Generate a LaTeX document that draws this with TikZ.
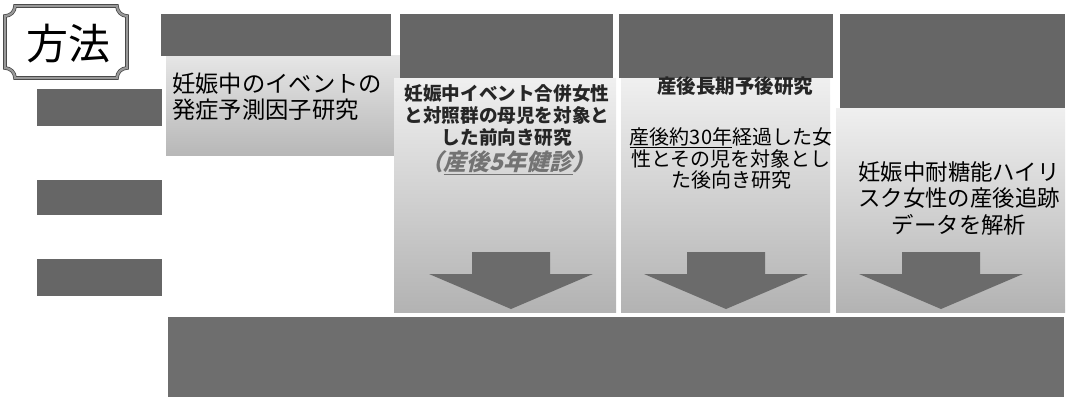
\documentclass[tikz,border=0pt]{standalone}
\usepackage{fontspec}
\newfontfamily\jp{Noto Sans CJK JP}
\newfontfamily\jpit[FakeSlant=0.25]{Noto Sans CJK JP}
\newcommand\fsz[2]{\fontsize{#1}{#2}\selectfont}
\begin{document}
\begin{tikzpicture}[x=1pt,y=-1pt,
  box/.style={rectangle, inner sep=0pt, outer sep=0pt, anchor=north west},
  darkbox/.style={box, fill=black!60},
  lightbg/.style={box, top color=black!6, bottom color=black!30},
  arrowfill/.style={fill=black!58},
  framebox/.style={draw=black!75, double=black!40, double distance=2.2pt, line width=0.7pt, fill=white},
  txt/.style={inner sep=0pt, align=center}
]
\useasboundingbox (0,0) rectangle (1068,404);

% column backgrounds
\node[box, top color=black!10, bottom color=black!28, minimum width=234, minimum height=99] (bg1) at (166,56) {};
\node[lightbg, minimum width=222, minimum height=234] (bg2) at (394,78) {};
\node[lightbg, minimum width=209, minimum height=234] (bg3) at (621,78) {};
\node[lightbg, minimum width=229, minimum height=204] (bg4) at (836,108) {};

% headers
\node[darkbox, minimum width=230, minimum height=42] (h1) at (161,14) {};
\node[darkbox, minimum width=213, minimum height=64] (h2) at (400,14) {};
\node[darkbox, minimum width=214, minimum height=64] (h3) at (619,14) {};
\node[darkbox, minimum width=225, minimum height=94] (h4) at (840,14) {};

% left boxes
\node[darkbox, minimum width=125, minimum height=37] (l1) at (37,89) {};
\node[darkbox, minimum width=125, minimum height=35] (l2) at (37,180) {};
\node[darkbox, minimum width=125, minimum height=37] (l3) at (37,259) {};

% bottom box
\node[box, fill=black!57, minimum width=896, minimum height=80] (bot) at (168,317) {};

% arrows
\foreach \cx in {511,726,941}{
  \fill[arrowfill] ({\cx-39},252) -- ({\cx+39},252) -- ({\cx+39},274) -- ({\cx+82},274)
    -- (\cx,309) -- ({\cx-82},274) -- ({\cx-39},274) -- cycle;
}

% 方法 frame
\draw[framebox] (15,6) -- (117,6) .. controls (117,11.5) and (121.5,16) .. (127,16)
  -- (127,68) .. controls (121.5,68) and (117,72.5) .. (117,78)
  -- (15,78) .. controls (15,72.5) and (10.5,68) .. (5,68)
  -- (5,16) .. controls (10.5,16) and (15,11.5) .. (15,6) -- cycle;
\node[txt, font=\jp\fsz{42}{44}] (hoho) at (68,44) {方法};

% texts
\node[inner sep=0pt, anchor=west, align=left, font=\jp\fsz{23.3}{26}] (t1) at (172,96.5)
  {妊娠中のイベントの\\発症予測因子研究};
\node[txt, text=black!85, font=\jp\bfseries\fsz{18.6}{22}] (t2) at (507,115)
  {妊娠中イベント合併女性\\と対照群の母児を対象と\\した前向き研究};
\node[txt, text=black!55, font=\jpit\bfseries\fsz{23}{24}] (t2b) at (508,163)
  {（\underline{産後5年健診}）};
\node[txt, text=black!85, font=\jp\bfseries\fsz{19.5}{22}] (t3h) at (735,86) {産後長期予後研究};
\node[txt, font=\jp\fsz{20}{21.5}] (t3) at (731,158.5)
  {\underline{産後約30年}経過した女\\性とその児を対象とし\\た後向き研究};
\node[txt, font=\jp\fsz{22.4}{26.5}] (t4) at (959,198)
  {妊娠中耐糖能ハイリ\\スク女性の産後追跡\\データを解析};
\end{tikzpicture}
\end{document}
